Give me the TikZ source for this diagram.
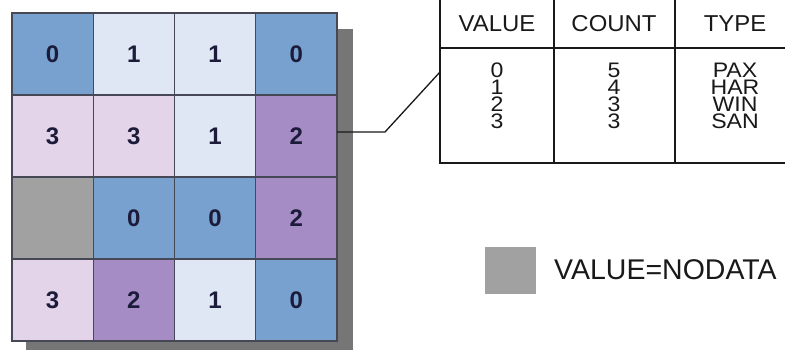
\documentclass[tikz,border=0pt]{standalone}
\usepackage{fontspec}
\setmainfont{Liberation Sans}
\definecolor{czero}{RGB}{120,161,207}
\definecolor{cone}{RGB}{222,231,243}
\definecolor{ctwo}{RGB}{166,140,197}
\definecolor{cthree}{RGB}{227,212,234}
\definecolor{cnd}{RGB}{162,161,161}
\definecolor{cshadow}{RGB}{118,118,118}
\definecolor{cgrid}{RGB}{70,72,85}
\definecolor{cdigit}{RGB}{28,28,58}
\definecolor{ctext}{RGB}{25,25,25}
\tikzset{
  cell/.style={draw=cgrid, line width=1.3pt, minimum width=81.25pt, minimum height=82pt, inner sep=0pt, outer sep=0pt,
    font=\fontsize{24}{24}\selectfont\bfseries, text=cdigit},
  tcell/.style={draw=ctext, line width=1.3pt, anchor=north west, inner sep=0pt, outer sep=0pt},
  head/.style={font=\fontsize{23}{23}\selectfont, text=ctext, xscale=1.04},
  body/.style={font=\fontsize{21}{17}\selectfont, text=ctext, xscale=1.1, inner sep=0pt, align=center},
  conn/.style={draw=ctext, line width=1.3pt},
}
\begin{document}
\begin{tikzpicture}[x=1pt,y=-1pt]
\useasboundingbox (0,0) rectangle (785,350);
\clip (0,0) rectangle (785,350);
\fill[white] (0,0) rectangle (785,350);
% shadow
\fill[cshadow] (26,29) rectangle (353,360);
% grid
\foreach \r/\vals in {0/{0/czero,1/cone,1/cone,0/czero},1/{3/cthree,3/cthree,1/cone,2/ctwo},2/{/cnd,0/czero,0/czero,2/ctwo},3/{3/cthree,2/ctwo,1/cone,0/czero}}{
  \foreach \v/\col [count=\c from 0] in \vals {
    \node[cell, fill=\col] (c-\r-\c) at ({12+81.25*(\c+0.5)},{13+82*(\r+0.5)}) {\v};
  }
}
% table
\node[tcell, minimum width=114pt, minimum height=50pt] (hv) at (440,-2) {};
\node[tcell, minimum width=121pt, minimum height=50pt] (hc) at (554,-2) {};
\node[tcell, minimum width=125pt, minimum height=50pt] (ht) at (675,-2) {};
\node[tcell, minimum width=114pt, minimum height=115pt] (bv) at (440,48) {};
\node[tcell, minimum width=121pt, minimum height=115pt] (bc) at (554,48) {};
\node[tcell, minimum width=125pt, minimum height=115pt] (bt) at (675,48) {};
\node[head] (tv) at (497,24) {VALUE};
\node[head] (tc) at (614,24) {COUNT};
\node[head] (tt) at (735,24) {TYPE};
\node[body] (bvt) at (497,96) {0\\1\\2\\3};
\node[body] (bct) at (614,96) {5\\4\\3\\3};
\node[body] (btt) at (735,96) {PAX\\HAR\\WIN\\SAN};
% connector
\coordinate (kink) at (385,132);
\coordinate (tin) at (440,72);
\draw[conn] ([yshift=4pt]c-1-3.east) -- (kink) -- (tin);
% legend
\node[fill=cnd, minimum width=51pt, minimum height=47pt, inner sep=0pt] (leg) at (510.5,270.5) {};
\node[anchor=west, inner sep=0pt, font=\fontsize{28.5}{28.5}\selectfont, text=ctext] (legt) at (554,270) {VALUE=NODATA};
\end{tikzpicture}
\end{document}
